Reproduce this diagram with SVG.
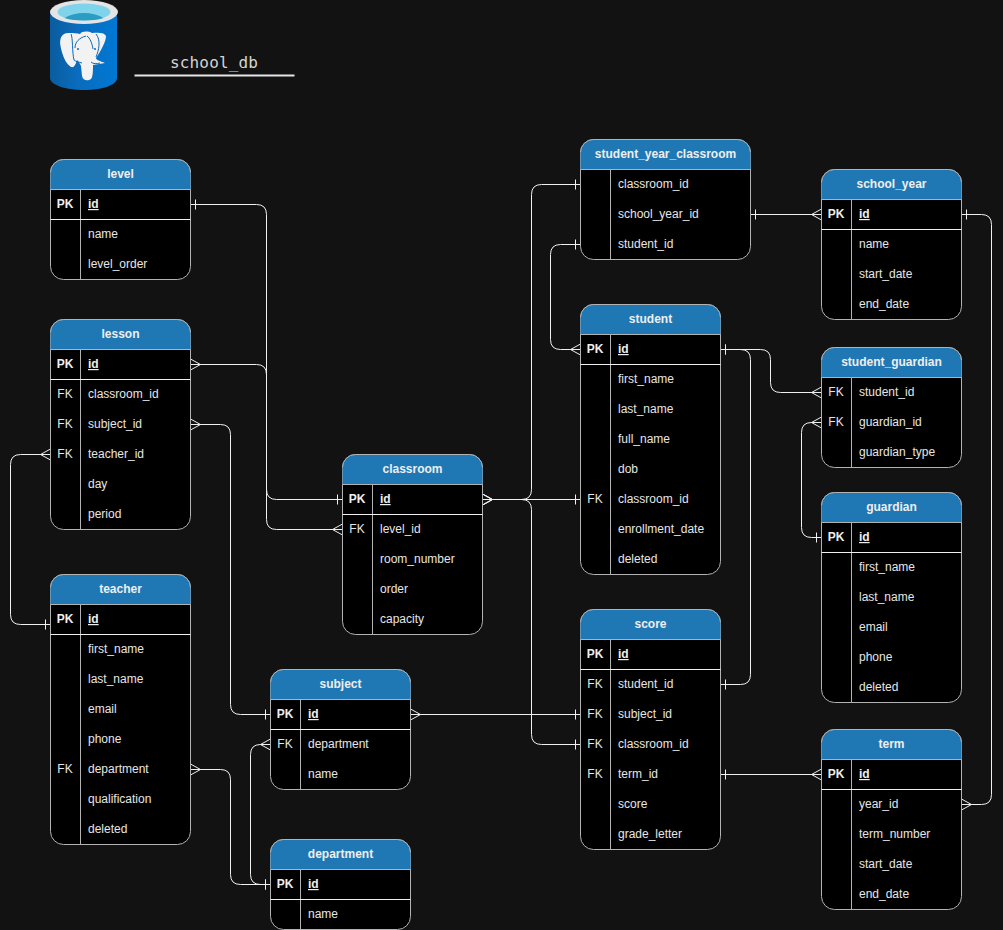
<svg xmlns="http://www.w3.org/2000/svg" width="1003" height="930" viewBox="0 0 1003 930">
<style>
text{font-family:"Liberation Sans",Arial,sans-serif;font-size:12px;fill:#e6e6e6}
.h{font-weight:bold;text-anchor:middle;fill:#eeeeee}
.k{text-anchor:middle}
.pk{font-weight:bold;text-anchor:middle;fill:#eeeeee}
.id{font-weight:bold;text-decoration:underline;fill:#eeeeee}
.b{fill:#000;stroke:#b3b3b3;stroke-width:1}
.hd{fill:#1f78b4}
.e{fill:none;stroke:#b3b3b3;stroke-width:1}
.d{fill:none;stroke:#f0f0f0;stroke-width:1}
.c path{fill:none;stroke:#f0f0f0;stroke-width:1}
.m path{fill:none;stroke:#f0f0f0;stroke-width:1}
.c1{marker-start:url(#bar);marker-end:url(#crow)}
.c2{marker-start:url(#crow);marker-end:url(#bar)}
.c3{marker-start:url(#bar);marker-end:url(#bar)}
.title{font-family:"DejaVu Sans Mono",monospace;font-size:16px;letter-spacing:.15px;fill:#d4d4d4}
</style>
<defs>
<linearGradient id="cyl" x1="0" x2="1" y1="0" y2="0"><stop offset="0" stop-color="#0a5c9e"/><stop offset=".4" stop-color="#0a6cbd"/><stop offset="1" stop-color="#0078d4"/></linearGradient>
<marker id="crow" class="m" markerUnits="userSpaceOnUse" markerWidth="14" markerHeight="14" viewBox="-2 -7 14 14" refX="10" refY="0" orient="auto-start-reverse"><path d="M10 -5.5L0 0L10 5.5"/></marker>
<marker id="bar" class="m" markerUnits="userSpaceOnUse" markerWidth="14" markerHeight="14" viewBox="-2 -7 14 14" refX="10" refY="0" orient="auto-start-reverse"><path d="M5 -5V5"/></marker>
</defs>
<rect width="1003" height="930" fill="#121212"/>
<g id="logo">
<path d="M50 12V78C50 85 66 90 84 90C102 90 117 85 117 78V12Z" fill="url(#cyl)"/>
<ellipse cx="84" cy="12" rx="34" ry="12" fill="#e4e4e4"/>
<ellipse cx="84" cy="12" rx="26.500" ry="8.500" fill="#7fd3ea"/>
<path d="M64.500 18C70 14.500 77 13 84 13C91 13 98 14.500 103.500 18C98 19.800 91 20.500 84 20.500C77 20.500 70 19.800 64.500 18Z" fill="#2b9dc3"/>
<path d="M70 33C62 32 59 38 60.500 46C62 54 65 63 71 67C75 68 76 63 77 60C79 62 80 64 81 66L82 76C83 81 88 81 91 79C93 77 93 70 93 65L105 63C100 61 96 60 96 58C100 52 106 42 106 36C105 33 100 32 92 33C88 31 82 31 80 34C77 33 73 33 70 33Z" fill="#f2f2f2"/>
<path d="M71 34C73 38 72 52 74 60M96 34C101 40 99 50 96 57M75 48C75 42 79 38 86 36M93 49C92 43 90 38 87 36M74 60C76 62 79 62 82 63M91 62C93 64 97 64 100 63" fill="none" stroke="#0c6ab8" stroke-width="1"/>
<circle cx="78" cy="49" r="1" fill="#0c6ab8"/><circle cx="95" cy="49" r="1" fill="#0c6ab8"/>
</g>
<g id="title">
<text class="title" x="170" y="68">school_db</text>
<path d="M134.500 75.500H294.500" stroke="#e6e6e6" stroke-width="2" fill="none"/>
</g>
<g id="connectors" class="c">
<path class="c1" d="M190.500 204.500H256.500Q266.500 204.500 266.500 214.500V519.500Q266.500 529.500 276.500 529.500H342.500"/>
<path class="c2" d="M190.500 364.500H256.500Q266.500 364.500 266.500 374.500V489.500Q266.500 499.500 276.500 499.500H342.500"/>
<path class="c2" d="M190.500 424.500H220.500Q230.500 424.500 230.500 434.500V704.500Q230.500 714.500 240.500 714.500H270.500"/>
<path class="c2" d="M50.500 454.500H20.500Q10.500 454.500 10.500 464.500V614.500Q10.500 624.500 20.500 624.500H50.500"/>
<path class="c2" d="M190.500 769.500H220.500Q230.500 769.500 230.500 779.500V874.500Q230.500 884.500 240.500 884.500H270.500"/>
<path class="c2" d="M270.500 744.500H260.500Q250.500 744.500 250.500 754.500V874.500Q250.500 884.500 260.500 884.500H270.500"/>
<path class="c2" d="M410.500 714.500H580.500"/>
<path class="c2" d="M482.500 499.500H521.500Q531.500 499.500 531.500 489.500V194.500Q531.500 184.500 541.500 184.500H580.500"/>
<path class="c2" d="M482.500 499.500H580.500"/>
<path class="c2" d="M482.500 499.500H521.500Q531.500 499.500 531.500 509.500V734.500Q531.500 744.500 541.500 744.500H580.500"/>
<path class="c1" d="M750.500 214.500H821.500"/>
<path class="c1" d="M580.500 244.500H560.500Q550.500 244.500 550.500 254.500V339.500Q550.500 349.500 560.500 349.500H580.500"/>
<path class="c1" d="M720.500 349.500H760.500Q770.500 349.500 770.500 359.500V382.500Q770.500 392.500 780.500 392.500H821.500"/>
<path class="c3" d="M720.500 349.500H740.500Q750.500 349.500 750.500 359.500V674.500Q750.500 684.500 740.500 684.500H720.500"/>
<path class="c2" d="M821.500 422.500H811.500Q801.500 422.500 801.500 432.500V527.500Q801.500 537.500 811.500 537.500H821.500"/>
<path class="c1" d="M720.500 774.500H821.500"/>
<path class="c1" d="M961.500 214.500H981.500Q991.500 214.500 991.500 224.500V794.500Q991.500 804.500 981.500 804.500H961.500"/>
</g>
<g id="level" transform="translate(50.500 159.500)">
<rect class="b" width="140" height="120" rx="13"/><path class="hd" d="M0 30V13A13 13 0 0 1 13 0H127A13 13 0 0 1 140 13V30Z"/><path class="e" d="M0 13A13 13 0 0 1 13 0H127A13 13 0 0 1 140 13M0 30H140M30 30V120"/><path class="d" d="M0 60H140"/>
<text class="h" x="70" y="18">level</text><text class="pk" x="14.500" y="48.500">PK</text><text class="id" x="37.500" y="48.500">id</text>
<text x="37.500" y="78.500">name</text><text x="37.500" y="108.500">level_order</text>
</g>
<g id="lesson" transform="translate(50.500 319.500)">
<rect class="b" width="140" height="210" rx="13"/><path class="hd" d="M0 30V13A13 13 0 0 1 13 0H127A13 13 0 0 1 140 13V30Z"/><path class="e" d="M0 13A13 13 0 0 1 13 0H127A13 13 0 0 1 140 13M0 30H140M30 30V210"/><path class="d" d="M0 60H140"/>
<text class="h" x="70" y="18">lesson</text><text class="pk" x="14.500" y="48.500">PK</text><text class="id" x="37.500" y="48.500">id</text>
<text class="k" x="14.500" y="78.500">FK</text><text x="37.500" y="78.500">classroom_id</text>
<text class="k" x="14.500" y="108.500">FK</text><text x="37.500" y="108.500">subject_id</text>
<text class="k" x="14.500" y="138.500">FK</text><text x="37.500" y="138.500">teacher_id</text>
<text x="37.500" y="168.500">day</text><text x="37.500" y="198.500">period</text>
</g>
<g id="teacher" transform="translate(50.500 574.500)">
<rect class="b" width="140" height="270" rx="13"/><path class="hd" d="M0 30V13A13 13 0 0 1 13 0H127A13 13 0 0 1 140 13V30Z"/><path class="e" d="M0 13A13 13 0 0 1 13 0H127A13 13 0 0 1 140 13M0 30H140M30 30V270"/><path class="d" d="M0 60H140"/>
<text class="h" x="70" y="18">teacher</text><text class="pk" x="14.500" y="48.500">PK</text><text class="id" x="37.500" y="48.500">id</text>
<text x="37.500" y="78.500">first_name</text><text x="37.500" y="108.500">last_name</text><text x="37.500" y="138.500">email</text><text x="37.500" y="168.500">phone</text>
<text class="k" x="14.500" y="198.500">FK</text><text x="37.500" y="198.500">department</text>
<text x="37.500" y="228.500">qualification</text><text x="37.500" y="258.500">deleted</text>
</g>
<g id="classroom" transform="translate(342.500 454.500)">
<rect class="b" width="140" height="180" rx="13"/><path class="hd" d="M0 30V13A13 13 0 0 1 13 0H127A13 13 0 0 1 140 13V30Z"/><path class="e" d="M0 13A13 13 0 0 1 13 0H127A13 13 0 0 1 140 13M0 30H140M30 30V180"/><path class="d" d="M0 60H140"/>
<text class="h" x="70" y="18">classroom</text><text class="pk" x="14.500" y="48.500">PK</text><text class="id" x="37.500" y="48.500">id</text>
<text class="k" x="14.500" y="78.500">FK</text><text x="37.500" y="78.500">level_id</text>
<text x="37.500" y="108.500">room_number</text><text x="37.500" y="138.500">order</text><text x="37.500" y="168.500">capacity</text>
</g>
<g id="subject" transform="translate(270.500 669.500)">
<rect class="b" width="140" height="120" rx="13"/><path class="hd" d="M0 30V13A13 13 0 0 1 13 0H127A13 13 0 0 1 140 13V30Z"/><path class="e" d="M0 13A13 13 0 0 1 13 0H127A13 13 0 0 1 140 13M0 30H140M30 30V120"/><path class="d" d="M0 60H140"/>
<text class="h" x="70" y="18">subject</text><text class="pk" x="14.500" y="48.500">PK</text><text class="id" x="37.500" y="48.500">id</text>
<text class="k" x="14.500" y="78.500">FK</text><text x="37.500" y="78.500">department</text><text x="37.500" y="108.500">name</text>
</g>
<g id="department" transform="translate(270.500 839.500)">
<rect class="b" width="140" height="90" rx="13"/><path class="hd" d="M0 30V13A13 13 0 0 1 13 0H127A13 13 0 0 1 140 13V30Z"/><path class="e" d="M0 13A13 13 0 0 1 13 0H127A13 13 0 0 1 140 13M0 30H140M30 30V90"/><path class="d" d="M0 60H140"/>
<text class="h" x="70" y="18">department</text><text class="pk" x="14.500" y="48.500">PK</text><text class="id" x="37.500" y="48.500">id</text>
<text x="37.500" y="78.500">name</text>
</g>
<g id="student_year_classroom" transform="translate(580.500 139.500)">
<rect class="b" width="170" height="120" rx="13"/><path class="hd" d="M0 30V13A13 13 0 0 1 13 0H157A13 13 0 0 1 170 13V30Z"/><path class="e" d="M0 13A13 13 0 0 1 13 0H157A13 13 0 0 1 170 13M0 30H170M30 30V120"/>
<text class="h" x="85" y="18">student_year_classroom</text>
<text x="37.500" y="48.500">classroom_id</text><text x="37.500" y="78.500">school_year_id</text><text x="37.500" y="108.500">student_id</text>
</g>
<g id="student" transform="translate(580.500 304.500)">
<rect class="b" width="140" height="270" rx="13"/><path class="hd" d="M0 30V13A13 13 0 0 1 13 0H127A13 13 0 0 1 140 13V30Z"/><path class="e" d="M0 13A13 13 0 0 1 13 0H127A13 13 0 0 1 140 13M0 30H140M30 30V270"/><path class="d" d="M0 60H140"/>
<text class="h" x="70" y="18">student</text><text class="pk" x="14.500" y="48.500">PK</text><text class="id" x="37.500" y="48.500">id</text>
<text x="37.500" y="78.500">first_name</text><text x="37.500" y="108.500">last_name</text><text x="37.500" y="138.500">full_name</text><text x="37.500" y="168.500">dob</text>
<text class="k" x="14.500" y="198.500">FK</text><text x="37.500" y="198.500">classroom_id</text>
<text x="37.500" y="228.500">enrollment_date</text><text x="37.500" y="258.500">deleted</text>
</g>
<g id="score" transform="translate(580.500 609.500)">
<rect class="b" width="140" height="240" rx="13"/><path class="hd" d="M0 30V13A13 13 0 0 1 13 0H127A13 13 0 0 1 140 13V30Z"/><path class="e" d="M0 13A13 13 0 0 1 13 0H127A13 13 0 0 1 140 13M0 30H140M30 30V240"/><path class="d" d="M0 60H140"/>
<text class="h" x="70" y="18">score</text><text class="pk" x="14.500" y="48.500">PK</text><text class="id" x="37.500" y="48.500">id</text>
<text class="k" x="14.500" y="78.500">FK</text><text x="37.500" y="78.500">student_id</text>
<text class="k" x="14.500" y="108.500">FK</text><text x="37.500" y="108.500">subject_id</text>
<text class="k" x="14.500" y="138.500">FK</text><text x="37.500" y="138.500">classroom_id</text>
<text class="k" x="14.500" y="168.500">FK</text><text x="37.500" y="168.500">term_id</text>
<text x="37.500" y="198.500">score</text><text x="37.500" y="228.500">grade_letter</text>
</g>
<g id="school_year" transform="translate(821.500 169.500)">
<rect class="b" width="140" height="150" rx="13"/><path class="hd" d="M0 30V13A13 13 0 0 1 13 0H127A13 13 0 0 1 140 13V30Z"/><path class="e" d="M0 13A13 13 0 0 1 13 0H127A13 13 0 0 1 140 13M0 30H140M30 30V150"/><path class="d" d="M0 60H140"/>
<text class="h" x="70" y="18">school_year</text><text class="pk" x="14.500" y="48.500">PK</text><text class="id" x="37.500" y="48.500">id</text>
<text x="37.500" y="78.500">name</text><text x="37.500" y="108.500">start_date</text><text x="37.500" y="138.500">end_date</text>
</g>
<g id="student_guardian" transform="translate(821.500 347.500)">
<rect class="b" width="140" height="120" rx="13"/><path class="hd" d="M0 30V13A13 13 0 0 1 13 0H127A13 13 0 0 1 140 13V30Z"/><path class="e" d="M0 13A13 13 0 0 1 13 0H127A13 13 0 0 1 140 13M0 30H140M30 30V120"/>
<text class="h" x="70" y="18">student_guardian</text>
<text class="k" x="14.500" y="48.500">FK</text><text x="37.500" y="48.500">student_id</text>
<text class="k" x="14.500" y="78.500">FK</text><text x="37.500" y="78.500">guardian_id</text>
<text x="37.500" y="108.500">guardian_type</text>
</g>
<g id="guardian" transform="translate(821.500 492.500)">
<rect class="b" width="140" height="210" rx="13"/><path class="hd" d="M0 30V13A13 13 0 0 1 13 0H127A13 13 0 0 1 140 13V30Z"/><path class="e" d="M0 13A13 13 0 0 1 13 0H127A13 13 0 0 1 140 13M0 30H140M30 30V210"/><path class="d" d="M0 60H140"/>
<text class="h" x="70" y="18">guardian</text><text class="pk" x="14.500" y="48.500">PK</text><text class="id" x="37.500" y="48.500">id</text>
<text x="37.500" y="78.500">first_name</text><text x="37.500" y="108.500">last_name</text><text x="37.500" y="138.500">email</text><text x="37.500" y="168.500">phone</text><text x="37.500" y="198.500">deleted</text>
</g>
<g id="term" transform="translate(821.500 729.500)">
<rect class="b" width="140" height="180" rx="13"/><path class="hd" d="M0 30V13A13 13 0 0 1 13 0H127A13 13 0 0 1 140 13V30Z"/><path class="e" d="M0 13A13 13 0 0 1 13 0H127A13 13 0 0 1 140 13M0 30H140M30 30V180"/><path class="d" d="M0 60H140"/>
<text class="h" x="70" y="18">term</text><text class="pk" x="14.500" y="48.500">PK</text><text class="id" x="37.500" y="48.500">id</text>
<text x="37.500" y="78.500">year_id</text><text x="37.500" y="108.500">term_number</text><text x="37.500" y="138.500">start_date</text><text x="37.500" y="168.500">end_date</text>
</g>
</svg>
